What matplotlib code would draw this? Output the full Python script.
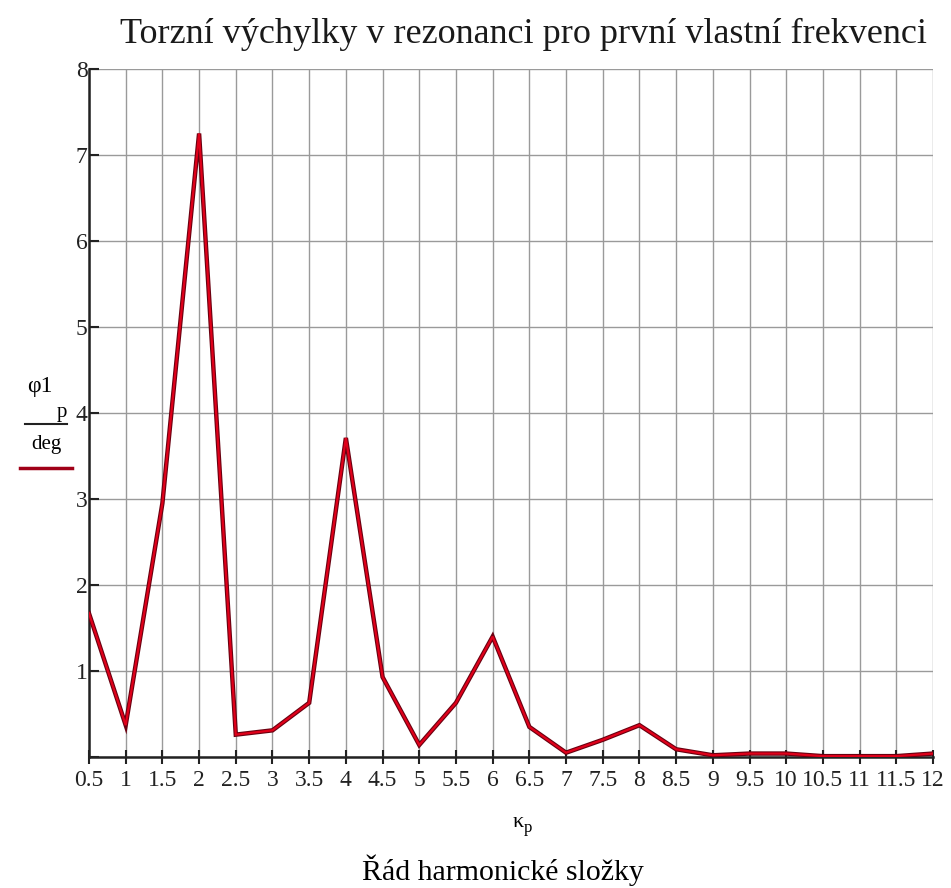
import numpy as np
import matplotlib
matplotlib.use("Agg")
import matplotlib.pyplot as plt
from matplotlib.lines import Line2D

# harmonic order and torsional amplitude (deg)
kappa = [0.5, 1.0, 1.5, 2.0, 2.5, 3.0, 3.5, 4.0, 4.5, 5.0, 5.5, 6.0,
         6.5, 7.0, 7.5, 8.0, 8.5, 9.0, 9.5, 10.0, 10.5, 11.0, 11.5, 12.0]
phi = [1.67, 0.37, 2.95, 7.25, 0.26, 0.31, 0.63, 3.71, 0.93, 0.14, 0.63, 1.40,
       0.35, 0.05, 0.20, 0.37, 0.09, 0.02, 0.04, 0.04, 0.01, 0.01, 0.01, 0.04]

xticks = kappa
xlabels = ["0.5", "1", "1.5", "2", "2.5", "3", "3.5", "4", "4.5", "5", "5.5", "6",
           "6.5", "7", "7.5", "8", "8.5", "9", "9.5", "10", "10.5", "11", "11.5", "12"]
yticks = [0, 1, 2, 3, 4, 5, 6, 7, 8]
ylabels = ["", "1", "2", "3", "4", "5", "6", "7", "8"]

plt.rcParams['font.family'] = ['Liberation Serif', 'DejaVu Serif']

W, H = 951, 888
fig = plt.figure(figsize=(W / 100, H / 100), dpi=100, facecolor='white')
ax = fig.add_axes([89 / W, 1 - 757 / H, (933 - 89) / W, (757 - 69) / H])

# dark outline + red core, like the original rendering
ax.plot(kappa, phi, color='#6a0010', lw=3.2, solid_joinstyle='miter', zorder=3)
ax.plot(kappa, phi, color='#e0001a', lw=1.6, solid_joinstyle='miter', zorder=4)

ax.set_xlim(0.5, 12)
ax.set_ylim(0, 8)
ax.set_xticks(xticks)
ax.set_xticklabels(xlabels, fontsize=17)
ax.set_yticks(yticks)
ax.set_yticklabels(ylabels, fontsize=17)
ax.grid(True, color='#9a9a9a', lw=1)
ax.set_axisbelow(True)

for s in ['top', 'right']:
    ax.spines[s].set_visible(False)
for s in ['left', 'bottom']:
    ax.spines[s].set_color('#222222')
    ax.spines[s].set_linewidth(1.8)
ax.tick_params(axis='x', direction='inout', length=10, width=1.5, pad=4, colors='#222222')
ax.tick_params(axis='y', direction='in', length=7, width=1.5, pad=1, colors='#222222')

# title
fig.text(523 / W, 1 - 34 / H, "Torzní výchylky v rezonanci pro první vlastní frekvenci",
         ha='center', va='center', fontsize=26, color='#1a1a1a')

# x labels
fig.text(518 / W, 1 - 822 / H, "κ", ha='center', va='center', fontsize=16)
fig.text(528 / W, 1 - 828 / H, "p", ha='center', va='center', fontsize=12)
fig.text(503 / W, 1 - 870 / H, "Řád harmonické složky", ha='center', va='center', fontsize=21.5)

# y label (fraction with legend sample)
fig.text(40 / W, 1 - 386 / H, "φ1", ha='center', va='center', fontsize=17)
fig.text(62 / W, 1 - 412 / H, "p", ha='center', va='center', fontsize=15)
fig.add_artist(Line2D([25 / W, 67 / W], [1 - 424 / H, 1 - 424 / H],
                      color='#222222', lw=1.5, transform=fig.transFigure))
fig.text(46 / W, 1 - 444 / H, "deg", ha='center', va='center', fontsize=15)
fig.add_artist(Line2D([20 / W, 72 / W], [1 - 468 / H, 1 - 468 / H],
                      color='#a00018', lw=2.5, transform=fig.transFigure))

fig.savefig("out.png", dpi=100, facecolor='white')
